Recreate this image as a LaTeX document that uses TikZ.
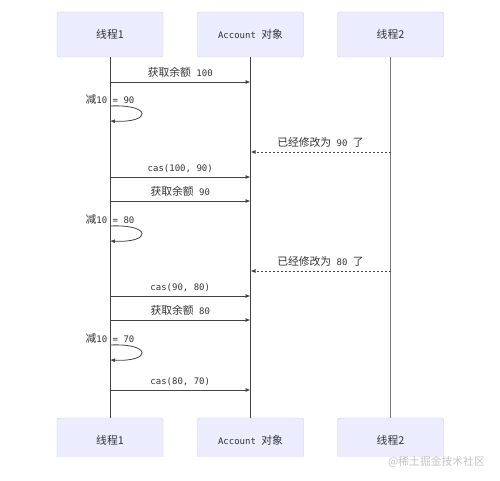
\documentclass[tikz,border=0pt]{standalone}
\usepackage{fontspec}
\setmainfont{DejaVu Sans Mono}
\newfontfamily\cjk[Scale=1.2]{Noto Sans CJK SC}
\usetikzlibrary{calc,positioning,arrows.meta}
\definecolor{ActorFill}{HTML}{ECECFF}
\definecolor{ActorBorder}{HTML}{CCC6F2}
\definecolor{LineDark}{HTML}{444444}
\definecolor{LineGray}{HTML}{7A7A7A}
\definecolor{TextDark}{HTML}{333333}
\definecolor{MarkGray}{HTML}{C4C4C4}

\tikzset{
  actor/.style={rectangle, rounded corners=2pt, draw=ActorBorder, fill=ActorFill,
    minimum width=106pt, minimum height=45pt, text=TextDark, inner sep=0pt},
  lifeline/.style={draw=LineDark, line width=0.8pt},
  msg/.style={draw=LineDark, line width=0.8pt, -{Latex[length=5pt,width=4pt]}},
  reply/.style={msg, dash pattern=on 2pt off 2pt},
  msglabel/.style={text=TextDark, inner sep=0pt, font=\fontsize{9}{11}\selectfont}
}

\begin{document}
\begin{tikzpicture}[x=1pt, y=-1pt, font=\fontsize{9}{11}\selectfont]
  \useasboundingbox[fill=white] (0,0) rectangle (500,481);

  % actors on top
  \node[actor] (thread1) at (110,34.5) {\cjk 线程1};
  \node[actor] (account) at (250.5,34.5) {Account \cjk 对象};
  \node[actor] (thread2) at (390.5,34.5) {\cjk 线程2};

  % actors at the bottom, cut off by the picture edge
  \begin{scope}
    \clip (0,0) rectangle (500,456.5);
    \node[actor] (thread1b) at (110,440.5) {\cjk 线程1};
    \node[actor] (accountb) at (250.5,440.5) {Account \cjk 对象};
    \node[actor] (thread2b) at (390.5,440.5) {\cjk 线程2};
  \end{scope}

  % lifelines
  \draw[lifeline] (thread1.south) -- (thread1b.north);
  \draw[lifeline] (account.south) -- (accountb.north);
  \draw[lifeline, draw=LineGray, line width=1.6pt] (thread2.south) -- (thread2b.north);

  % calls from thread 1
  \foreach \y/\txt in {82/{{\cjk 获取余额} 100},
                       177/{cas(100, 90)},
                       201/{{\cjk 获取余额} 90},
                       296/{cas(90, 80)},
                       320/{{\cjk 获取余额} 80},
                       390/{cas(80, 70)}} {
    \draw[msg] (thread1 |- 0,\y) -- (account |- 0,\y)
      node[msglabel, midway, above=4pt] {\txt};
  }

  % thread 2 changes the balance
  \foreach \y/\val in {152/90, 271/80} {
    \draw[reply] (thread2 |- 0,\y) -- (account |- 0,\y)
      node[msglabel, midway, above=4pt] {{\cjk 已经修改为} \val\ {\cjk 了}};
  }

  % self calls
  \foreach \y/\val in {106/90, 226/80, 345/70} {
    \node[msglabel] (calc\val) at ($(thread1 |- 0,\y)+(0,-7)$) {{\cjk 减}10 = \val};
    \draw[msg] (thread1 |- 0,\y) .. controls +(42,-2) and +(42,2) .. (thread1 |- 0,\y+15);
  }

  \node[text=MarkGray, inner sep=0pt, anchor=east] (mark) at (485,462)
    {\cjk @稀土掘金技术社区};
\end{tikzpicture}
\end{document}
